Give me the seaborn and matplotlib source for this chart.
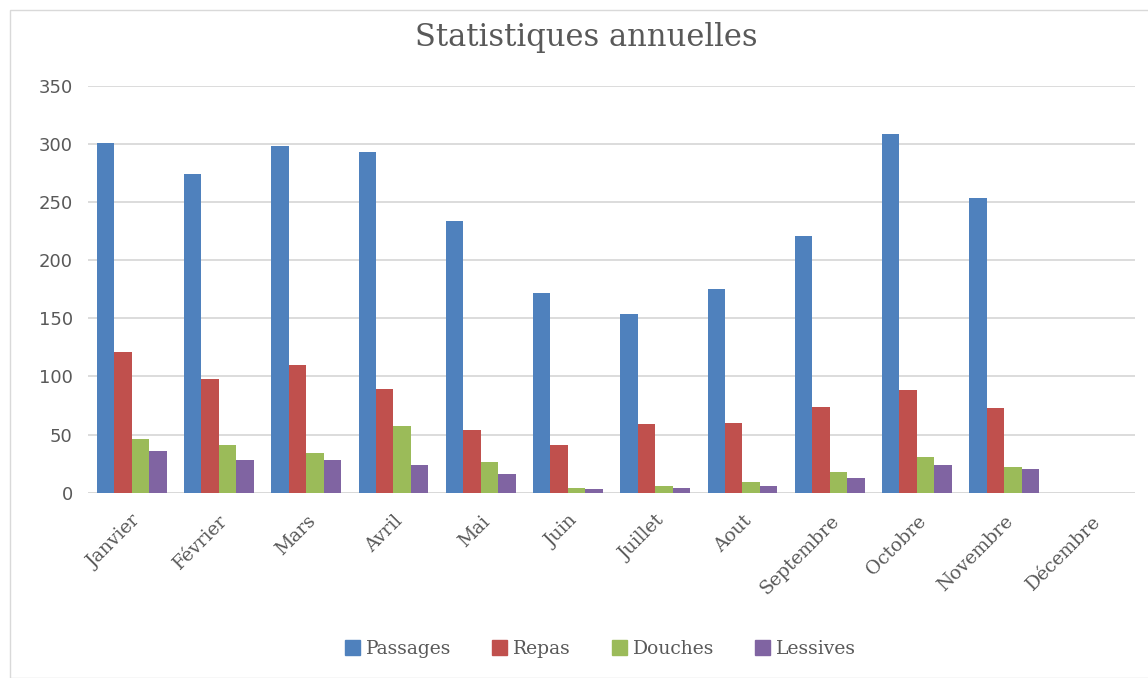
import pandas as pd
import matplotlib.pyplot as plt
import matplotlib.patches as mpatches
import seaborn as sns

mois = ['Janvier', 'Février', 'Mars', 'Avril', 'Mai', 'Juin', 'Juillet',
        'Aout', 'Septembre', 'Octobre', 'Novembre', 'Décembre']
passages = [301, 274, 298, 293, 234, 172, 154, 175, 221, 309, 254, 0]
repas = [121, 98, 110, 89, 54, 41, 59, 60, 74, 88, 73, 0]
douches = [46, 41, 34, 57, 26, 4, 6, 9, 18, 31, 22, 0]
lessives = [36, 28, 28, 24, 16, 3, 4, 6, 13, 24, 20, 0]
series = ['Passages', 'Repas', 'Douches', 'Lessives']
couleurs = ['#4F81BD', '#C0504D', '#9BBB59', '#8064A2']

# tableau long pour seaborn
df = pd.DataFrame({'Mois': mois * 4,
                   'Serie': [s for s in series for _ in mois],
                   'Valeur': passages + repas + douches + lessives})

sns.set_style('white')
serif = ['DejaVu Serif']
gris = '#595959'

fig = plt.figure(figsize=(11.48, 6.78), dpi=100)
ax = fig.add_axes([0.0767, 0.2734, 0.912, 0.5998])

sns.barplot(data=df, x='Mois', y='Valeur', hue='Serie', palette=couleurs,
            width=0.8, saturation=1, ax=ax, legend=False, zorder=3,
            linewidth=0)

ax.set_ylim(0, 350)
ax.set_yticks(range(0, 351, 50))
ax.set_xlim(-0.5, 11.5)
ax.grid(axis='y', color='#D9D9D9', linewidth=1.3, zorder=0)
for s in ax.spines.values():
    s.set_visible(False)
ax.axhline(0, color='#D9D9D9', linewidth=1.3, zorder=1)
ax.set_xlabel('')
ax.set_ylabel('')
ax.tick_params(axis='both', length=0, colors=gris)
ax.tick_params(axis='y', labelsize=13, pad=11)
for lab in ax.get_yticklabels():
    lab.set_family(['DejaVu Sans'])
ax.set_xticks(range(len(mois)))
ax.set_xticklabels(mois, rotation=45, ha='right', rotation_mode='anchor',
                   fontsize=13.5, family=serif, color=gris)
ax.tick_params(axis='x', pad=14)

fig.text(0.511, 0.944, 'Statistiques annuelles', ha='center', va='center',
         fontsize=22, family=serif, color=gris)

poignees = [mpatches.Patch(color=c, label=s) for c, s in zip(couleurs, series)]
fig.legend(handles=poignees, loc='center', bbox_to_anchor=(0.523, 0.043),
           ncol=4, frameon=False, handlelength=0.8, handleheight=0.8,
           handletextpad=0.3, columnspacing=2.2,
           prop={'family': serif, 'size': 13.5}, labelcolor=gris)

# cadre du graphique
fig.patches.append(mpatches.Rectangle((0.009, 0.0), 0.995, 0.985,
                                      transform=fig.transFigure, fill=False,
                                      edgecolor='#D9D9D9', linewidth=1))

fig.savefig('out.png', dpi=100, facecolor='white')
